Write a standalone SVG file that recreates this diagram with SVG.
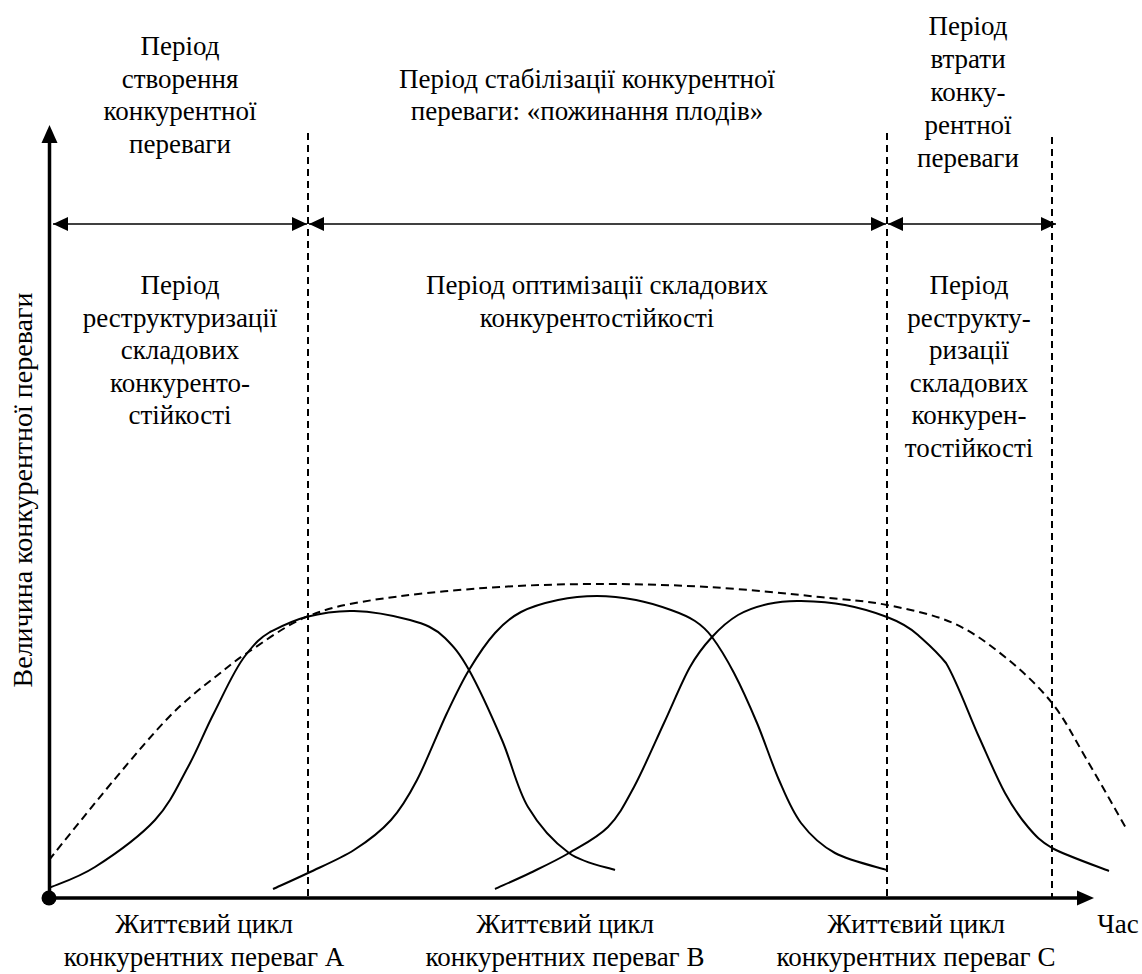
<svg xmlns="http://www.w3.org/2000/svg" width="1142" height="974" viewBox="0 0 1142 974" font-family="Liberation Serif">
<defs>
<marker id="ah" viewBox="0 0 15 14" refX="15" refY="7" markerWidth="15" markerHeight="14" markerUnits="userSpaceOnUse" orient="auto-start-reverse">
<path d="M0,0 L15,7 L0,14 z" fill="#000"/>
</marker>
</defs>
<rect width="1142" height="974" fill="#fff"/>

<g id="axes" stroke="#000" stroke-width="3.5" fill="none">
<line x1="49.5" y1="898" x2="49.5" y2="140"/>
<line x1="49.5" y1="898" x2="1080" y2="898"/>
<path d="M49.5,125 L57.5,143 L41.5,143 z" fill="#000" stroke="none"/>
<path d="M1094,898 L1077,890.5 L1077,905.5 z" fill="#000" stroke="none"/>
<circle cx="49" cy="898" r="7.5" fill="#000" stroke="none"/>
</g>

<g id="dividers" stroke="#000" stroke-width="2" stroke-dasharray="7 5" fill="none">
<line x1="308" y1="133" x2="308" y2="897"/>
<line x1="887" y1="133" x2="887" y2="897"/>
<line x1="1052" y1="137" x2="1052" y2="897"/>
</g>

<g id="connectors" stroke="#000" stroke-width="1.5" fill="none" marker-start="url(#ah)" marker-end="url(#ah)">
<line x1="53" y1="224" x2="307" y2="224"/>
<line x1="309" y1="224" x2="886" y2="224"/>
<line x1="888" y1="224" x2="1056" y2="224"/>
</g>

<g id="curve-a" stroke="#000" stroke-width="2" fill="none">
<path d="M49,888 C56.7,884.5 77.3,878.3 95,867 C112.7,855.7 139.5,836.7 155,820 C170.5,803.3 178.2,784.8 188,767 C197.8,749.2 204.2,732 214,713 C223.8,694 234,670 245,656 C256,642 260,638 270,632 C280,627 291.8,620.7 306,617 C320.2,613.3 336.7,610.5 354,611 C371.3,611.5 395.2,616 410,620 C424.8,624 435,628 445,638 C454,647 459.2,652.5 469,670 C478.8,687.5 492.2,717.2 502,740 C511.8,762.8 516.8,788.2 528,807 C539.2,825.8 554.5,842.5 569,853 C583.5,863.5 607.3,867.2 615,870"/>
</g>

<g id="curve-b" stroke="#000" stroke-width="2" fill="none">
<path d="M273,889 C278.8,886.3 294.5,879.5 308,873 C321.8,866.3 340.2,858.8 354,850 C367.8,841.2 380.5,831.7 391,820 C401.5,808.3 407.7,797.8 417,780 C426.3,762.2 438.3,731.3 447,713 C455.7,694.7 461,683.3 469,670 C477,656.7 486.3,642.7 495,633 C503.7,623.3 510.5,617.5 521,612 C531.5,606.5 545.3,602.7 558,600 C570.7,597.3 584,596 597,596 C610,596 623.7,597.7 636,600 C648.3,602.3 661.2,606.5 671,610 C680.8,613.5 688.2,616.5 695,621 C701.8,625.5 705.5,628.3 712,637 C718.5,645.7 726.5,658.7 734,673 C741.5,687.3 749.5,705.2 757,723 C764.5,740.8 771.7,763.3 779,780 C786.3,796.7 791.7,810.8 801,823 C810.3,835.2 820.7,845.2 835,853 C849.3,860.8 878.3,867.2 887,870"/>
</g>

<g id="curve-c" stroke="#000" stroke-width="2" fill="none">
<path d="M495,889 C500.8,886.3 517.7,879 530,873 C542.3,867 556,860.7 569,853 C582,845.3 597.2,838 608,827 C618.8,816 624.7,804.3 634,787 C643.3,769.7 654.7,743 664,723 C673.3,703 682,681.3 690,667 C698,652.7 704,645.7 712,637 C720,628.3 728.7,620.5 738,615 C747.3,609.5 757.5,606.3 768,604 C778.5,601.7 788.5,600.7 801,601 C813.5,601.3 830.7,602.3 845,605 C859.3,607.7 875.2,612.5 887,617 C898.8,621.5 908,626 918,635 C928,644 935.5,650 946,663 C956.5,680.3 969.2,715.3 979,737 C988.8,758.7 996.8,778 1005,793 C1013.2,808 1020.2,817.8 1028,827 C1035.8,836.2 1040,840.7 1052,848 C1065.5,855.3 1099.5,867.2 1109,871"/>
</g>

<g id="envelope" stroke="#000" stroke-width="2" stroke-dasharray="8 5" fill="none">
<path d="M49,860 C59.8,846.7 94,803.8 114,780 C134,756.2 152.3,734.2 169,717 C185.7,699.8 201,688 214,678 C227,668 233,662 247,653 C262.3,643 285,625.7 306,617 C327,608.3 343.3,604.8 373,600 C402.7,595.2 447,590.7 484,588 C521,585.3 557.7,584.2 595,584 C632.3,583.8 670.5,584.8 708,587 C745.5,589.2 790.2,594 820,597 C849.8,600 864.8,600.7 887,605 C909.2,609.3 933.3,614.3 953,623 C972.7,631.7 988.5,643.7 1005,657 C1021.5,670.3 1038.3,685.8 1052,703 C1065.7,720.2 1074.7,739.2 1087,760 C1099.3,780.8 1119.5,816.7 1126,828"/>
</g>

<g id="label-top-left" font-size="27" fill="#000" text-anchor="middle">
<text style="font-family:Liberation Serif" font-family="Liberation Serif" x="180" y="55">Період</text>
<text style="font-family:Liberation Serif" font-family="Liberation Serif" x="180" y="88">створення</text>
<text style="font-family:Liberation Serif" font-family="Liberation Serif" x="180" y="120">конкурентної</text>
<text style="font-family:Liberation Serif" font-family="Liberation Serif" x="180" y="153">переваги</text>
</g>
<g id="label-top-middle" font-size="27" fill="#000" text-anchor="middle">
<text style="font-family:Liberation Serif" font-family="Liberation Serif" x="587" y="88">Період стабілізації конкурентної</text>
<text style="font-family:Liberation Serif" font-family="Liberation Serif" x="587" y="120">переваги: «пожинання плодів»</text>
</g>
<g id="label-top-right" font-size="27" fill="#000" text-anchor="middle">
<text style="font-family:Liberation Serif" font-family="Liberation Serif" x="968" y="35">Період</text>
<text style="font-family:Liberation Serif" font-family="Liberation Serif" x="968" y="68">втрати</text>
<text style="font-family:Liberation Serif" font-family="Liberation Serif" x="968" y="101">конку-</text>
<text style="font-family:Liberation Serif" font-family="Liberation Serif" x="968" y="134">рентної</text>
<text style="font-family:Liberation Serif" font-family="Liberation Serif" x="968" y="167">переваги</text>
</g>

<g id="label-mid-left" font-size="27" fill="#000" text-anchor="middle">
<text style="font-family:Liberation Serif" font-family="Liberation Serif" x="180" y="294">Період</text>
<text style="font-family:Liberation Serif" font-family="Liberation Serif" x="180" y="327">реструктуризації</text>
<text style="font-family:Liberation Serif" font-family="Liberation Serif" x="180" y="359">складових</text>
<text style="font-family:Liberation Serif" font-family="Liberation Serif" x="180" y="392">конкуренто-</text>
<text style="font-family:Liberation Serif" font-family="Liberation Serif" x="180" y="424">стійкості</text>
</g>
<g id="label-mid-middle" font-size="27" fill="#000" text-anchor="middle">
<text style="font-family:Liberation Serif" font-family="Liberation Serif" x="597" y="294">Період оптимізації складових</text>
<text style="font-family:Liberation Serif" font-family="Liberation Serif" x="597" y="327">конкурентостійкості</text>
</g>
<g id="label-mid-right" font-size="27" fill="#000" text-anchor="middle">
<text style="font-family:Liberation Serif" font-family="Liberation Serif" x="969" y="294">Період</text>
<text style="font-family:Liberation Serif" font-family="Liberation Serif" x="969" y="327">реструкту-</text>
<text style="font-family:Liberation Serif" font-family="Liberation Serif" x="969" y="359">ризації</text>
<text style="font-family:Liberation Serif" font-family="Liberation Serif" x="969" y="392">складових</text>
<text style="font-family:Liberation Serif" font-family="Liberation Serif" x="969" y="424">конкурен-</text>
<text style="font-family:Liberation Serif" font-family="Liberation Serif" x="969" y="457">тостійкості</text>
</g>

<g id="label-bottom-a" font-size="27" fill="#000" text-anchor="middle">
<text style="font-family:Liberation Serif" font-family="Liberation Serif" x="204" y="933">Життєвий цикл</text>
<text style="font-family:Liberation Serif" font-family="Liberation Serif" x="204" y="966">конкурентних переваг А</text>
</g>
<g id="label-bottom-b" font-size="27" fill="#000" text-anchor="middle">
<text style="font-family:Liberation Serif" font-family="Liberation Serif" x="565" y="933">Життєвий цикл</text>
<text style="font-family:Liberation Serif" font-family="Liberation Serif" x="565" y="966">конкурентних переваг В</text>
</g>
<g id="label-bottom-c" font-size="27" fill="#000" text-anchor="middle">
<text style="font-family:Liberation Serif" font-family="Liberation Serif" x="916" y="933">Життєвий цикл</text>
<text style="font-family:Liberation Serif" font-family="Liberation Serif" x="916" y="966">конкурентних переваг С</text>
</g>
<g id="label-time" font-size="27" fill="#000" text-anchor="middle">
<text style="font-family:Liberation Serif" font-family="Liberation Serif" x="1118" y="933">Час</text>
</g>
<g id="label-yaxis" font-size="28" fill="#000" text-anchor="middle">
<text style="font-family:Liberation Serif" font-family="Liberation Serif" transform="translate(32,490) rotate(-90)" x="0" y="0">Величина конкурентної переваги</text>
</g>
</svg>
